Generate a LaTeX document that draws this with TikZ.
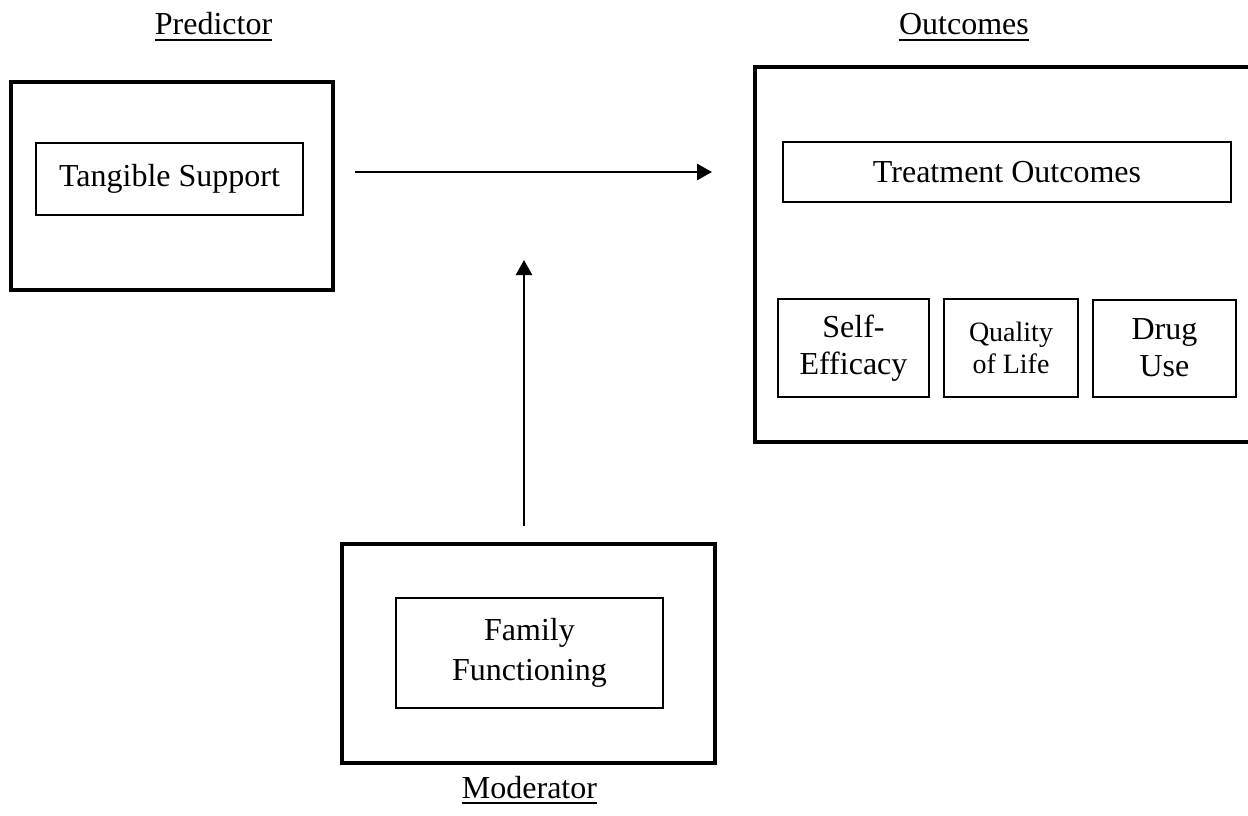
\documentclass[tikz,border=0pt]{standalone}
\usepackage{fontspec}
\setmainfont{Liberation Serif}
\newsavebox{\ulwordbox}
\newcommand{\ulword}[1]{\sbox{\ulwordbox}{#1}\rlap{\usebox{\ulwordbox}}\rule[-6.2pt]{\wd\ulwordbox}{2.6pt}}
\usetikzlibrary{positioning, arrows.meta}

\begin{document}
\begin{tikzpicture}[x=1pt, y=-1pt, node distance=13pt,
    every node/.style={font=\fontsize{32}{37}\selectfont, inner sep=0pt},
    outer/.style={draw, line width=4pt},
    inner/.style={draw, line width=2pt, align=center},
    lab/.style={anchor=base},
    arr/.style={line width=2.5pt, -{Triangle[width=16pt,length=15pt]}}]
  \useasboundingbox (0,0) rectangle (1248,816);
  % predictor
  \node (pred) [outer, minimum width=322pt, minimum height=208pt] at (172,186) {};
  \node (tang) [inner, minimum width=267pt, minimum height=72pt] at (169.5,179) {Tangible Support};
  \node (plab) [lab] at (213.5,35) {\ulword{Predictor}};
  % outcomes (box runs past the right edge)
  \node (outc) [outer, minimum width=497pt, minimum height=375pt] at (1003.5,254.5) {};
  \node (treat) [inner, minimum width=448pt, minimum height=60pt] at (1007,172) {Treatment Outcomes};
  \node (self) [inner, minimum width=151pt, minimum height=98pt] at (853.5,348) {Self-\\Efficacy};
  \node (qual) [inner, minimum width=134pt, minimum height=98pt, right=of self,
                font=\fontsize{28}{32}\selectfont] {Quality\\of Life};
  \node (drug) [inner, minimum width=143pt, minimum height=97pt, right=of qual] {Drug\\Use};
  \node (olab) [lab] at (964,35) {\ulword{Outcomes}};
  % moderator
  \node (mod) [outer, minimum width=373pt, minimum height=219pt] at (528.5,653.5) {};
  \node (fam) [inner, minimum width=267pt, minimum height=110pt,
               font=\fontsize{32}{40}\selectfont] at (529.5,653) {Family\\Functioning};
  \node (mlab) [lab] at (529.5,798) {\ulword{Moderator}};
  \coordinate (mtip) at (524,260);
  \draw[arr, shorten <=20pt, shorten >=41pt] (pred.east |- treat.west) -- (outc.west |- treat.west);
  \draw[arr, shorten <=16pt] (mod.north -| mtip) -- (mtip);
\end{tikzpicture}
\end{document}
